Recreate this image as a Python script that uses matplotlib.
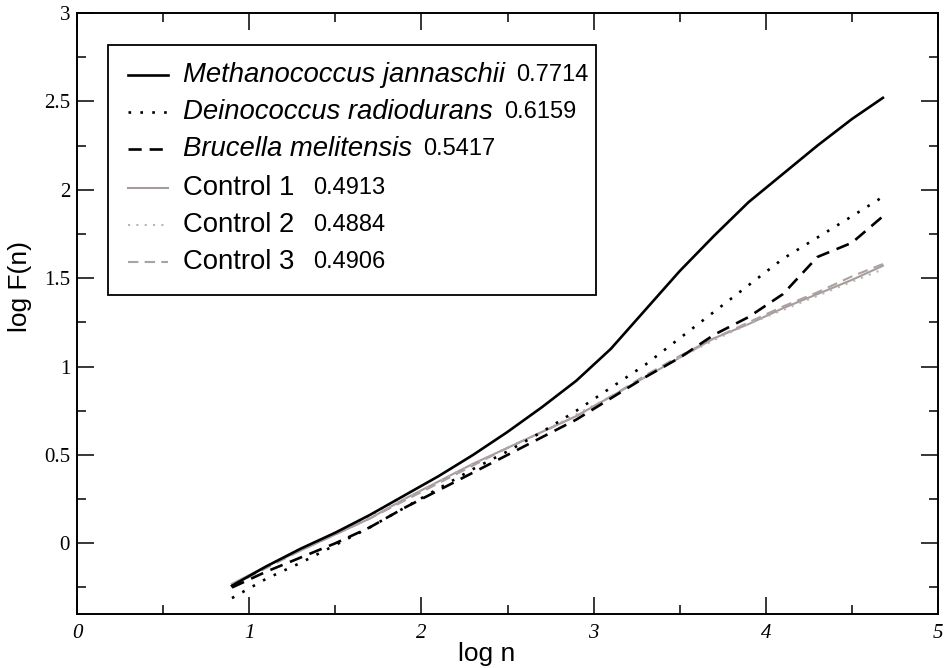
import matplotlib
matplotlib.use("Agg")
import matplotlib.pyplot as plt
from matplotlib.lines import Line2D
from matplotlib.patches import Rectangle
from matplotlib.ticker import MultipleLocator

# log n sample positions
log_n = [0.9, 1.1, 1.3, 1.5, 1.7, 1.9, 2.1, 2.3, 2.5, 2.7, 2.9, 3.1, 3.3,
         3.5, 3.7, 3.9, 4.1, 4.3, 4.5, 4.68]

methanococcus = [-0.24, -0.13, -0.03, 0.06, 0.16, 0.27, 0.38, 0.50, 0.63, 0.77,
                 0.92, 1.10, 1.32, 1.54, 1.74, 1.93, 2.09, 2.25, 2.40, 2.52]
deinococcus = [-0.31, -0.20, -0.11, -0.01, 0.09, 0.20, 0.31, 0.42, 0.52, 0.63,
               0.75, 0.88, 1.01, 1.16, 1.31, 1.46, 1.61, 1.73, 1.85, 1.96]
brucella = [-0.25, -0.16, -0.08, 0.00, 0.09, 0.20, 0.30, 0.40, 0.50, 0.60,
            0.70, 0.82, 0.94, 1.05, 1.18, 1.28, 1.41, 1.62, 1.70, 1.85]
control1 = [-0.23, -0.13, -0.04, 0.05, 0.14, 0.25, 0.35, 0.45, 0.54, 0.63,
            0.72, 0.83, 0.94, 1.05, 1.16, 1.24, 1.33, 1.41, 1.49, 1.57]
control2 = [-0.23, -0.13, -0.04, 0.05, 0.15, 0.25, 0.35, 0.45, 0.54, 0.63,
            0.73, 0.83, 0.94, 1.05, 1.15, 1.24, 1.32, 1.40, 1.48, 1.55]
control3 = [-0.24, -0.14, -0.04, 0.05, 0.14, 0.24, 0.34, 0.44, 0.54, 0.63,
            0.72, 0.83, 0.95, 1.06, 1.16, 1.25, 1.34, 1.42, 1.51, 1.58]

names = ["Methanococcus jannaschii", "Deinococcus radiodurans",
         "Brucella melitensis", "Control 1", "Control 2", "Control 3"]
exponents = ["0.7714", "0.6159", "0.5417", "0.4913", "0.4884", "0.4906"]
italic = [True, True, True, False, False, False]

series = [methanococcus, deinococcus, brucella, control1, control2, control3]
styles = [
    dict(color="black", ls="-", lw=1.9),
    dict(color="black", ls=(0, (1, 3.5)), lw=1.9),
    dict(color="black", ls=(0, (5, 3)), lw=1.9),
    dict(color="#a69c9c", ls="-", lw=1.5),
    dict(color="#bdb3b3", ls=(0, (1, 3)), lw=1.5),
    dict(color="#aca2a2", ls=(0, (5, 3)), lw=1.5),
]

W, H = 945, 668
fig = plt.figure(figsize=(W / 100, H / 100), dpi=100)
ax = fig.add_axes([77 / W, 54 / H, 861 / W, 601 / H])

# controls first so the black curves sit on top
for idx in [3, 4, 5, 0, 1, 2]:
    ax.plot(log_n, series[idx], **styles[idx])

ax.set_xlim(0, 5)
ax.set_ylim(-0.4, 3)
ax.xaxis.set_major_locator(MultipleLocator(1))
ax.xaxis.set_minor_locator(MultipleLocator(0.5))
ax.yaxis.set_major_locator(MultipleLocator(0.5))
ax.yaxis.set_minor_locator(MultipleLocator(0.25))
ax.tick_params(which="both", direction="in", top=True, right=True, width=1.1)
ax.tick_params(which="major", length=12.5)
ax.tick_params(which="minor", length=6.5)
ax.tick_params(axis="y", pad=5)
ax.tick_params(axis="x", pad=7)
for s in ax.spines.values():
    s.set_linewidth(1.4)

ax.set_yticks([0, 0.5, 1, 1.5, 2, 2.5, 3])
ax.set_yticklabels(["0", "0.5", "1", "1.5", "2", "2.5", "3"],
                   family="Liberation Serif", fontsize=15)
ax.set_xticks([0, 1, 2, 3, 4, 5])
ax.set_xticklabels(["0", "1", "2", "3", "4", "5"],
                   family="Liberation Serif", style="italic", fontsize=15)

ax.set_xlabel("log n", family="Liberation Sans", fontsize=19)
ax.set_ylabel("log F(n)", family="Liberation Sans", fontsize=19)
ax.xaxis.set_label_coords(0.476, -0.047)
ax.yaxis.set_label_coords(-0.052, 0.545)


def to_ax(px, py):
    return (px - 77) / 861, (614 - py) / 601


# legend box drawn by hand
x0, y0 = to_ax(108, 295)
x1, y1 = to_ax(596, 45)
ax.add_patch(Rectangle((x0, y0), x1 - x0, y1 - y0, transform=ax.transAxes,
                       fill=False, edgecolor="black", lw=1.3, clip_on=False,
                       zorder=5))

row_y = [75, 112, 149, 188, 225, 262]
name_texts = []
for i, name in enumerate(names):
    hx0, hy = to_ax(128, row_y[i])
    hx1, _ = to_ax(168, row_y[i])
    ax.add_line(Line2D([hx0, hx1], [hy, hy], transform=ax.transAxes,
                       clip_on=False, **styles[i]))
    tx, _ = to_ax(183, row_y[i])
    t = ax.text(tx, hy, name, transform=ax.transAxes, va="center", ha="left",
                family="Liberation Sans", fontsize=19.8,
                style="italic" if italic[i] else "normal")
    name_texts.append(t)

fig.canvas.draw()
inv = ax.transAxes.inverted()
for i, t in enumerate(name_texts):
    bb = t.get_window_extent()
    gap = 11 if italic[i] else 19
    nx, _ = inv.transform((bb.x1 + gap, 0))
    _, hy = to_ax(0, row_y[i])
    ax.text(nx, hy, exponents[i], transform=ax.transAxes, va="center",
            ha="left", family="Liberation Sans", fontsize=17)

fig.savefig("out.png", dpi=100)
